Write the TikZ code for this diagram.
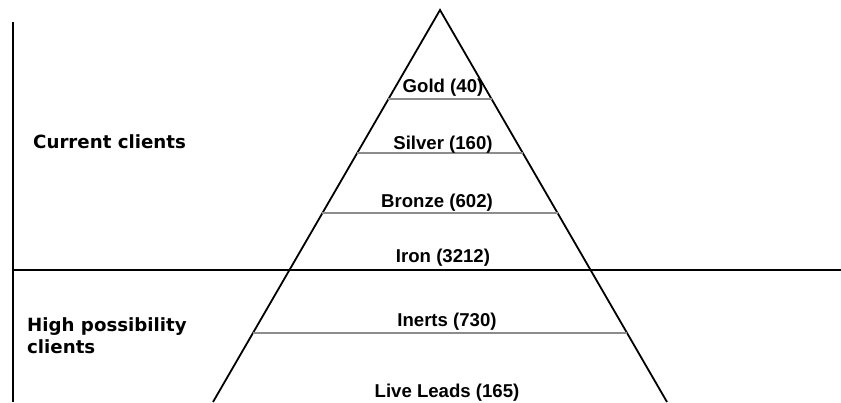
\documentclass[tikz,border=0pt]{standalone}
\usepackage{fontspec}
\setmainfont{Liberation Sans}
\newfontfamily\sidefont{DejaVu Sans}
\usetikzlibrary{calc,positioning}

\begin{document}
\begin{tikzpicture}[
    x=1pt, y=-1pt,
    edge/.style={line width=1.8pt, black},
    tier/.style={line width=1.8pt, black!45},
    tierlabel/.style={font=\fontsize{18.6}{22}\selectfont\bfseries, inner sep=0pt},
    sidelabel/.style={font=\sidefont\fontsize{18.2}{22}\selectfont\bfseries, inner sep=0pt, align=left, anchor=west}
]
    \useasboundingbox (0,0) rectangle (841,402);

    % pyramid
    \coordinate (apex) at (440,10);
    \coordinate (bl) at (213,402);
    \coordinate (br) at (667,402);
    \draw[edge] (bl) -- (apex) -- (br);

    % split between current and possible clients
    \coordinate (axtop) at (13,22);
    \coordinate (axbot) at (13,402);
    \coordinate (splitl) at (13,270);
    \coordinate (splitr) at (841,270);
    \draw[edge] (axtop) -- (axbot);
    \draw[edge] (splitl) -- (splitr);

    % tier boundaries
    \foreach \t/\n in {0.227/gold, 0.365/silver, 0.518/bronze, 0.824/inerts} {
        \coordinate (\n l) at ($(apex)!\t!(bl)$);
        \coordinate (\n r) at ($(apex)!\t!(br)$);
        \draw[tier] (\n l) -- (\n r);
    }

    % tier labels
    \node[tierlabel] (gold) at (443,88) {Gold (40)};
    \node[tierlabel] (silver) at (443,145) {Silver (160)};
    \node[tierlabel] (bronze) at (437,203) {Bronze (602)};
    \node[tierlabel] (iron) at (443,258) {Iron (3212)};
    \node[tierlabel] (inerts) at (447,322) {Inerts (730)};
    \node[tierlabel] (leads) at (447,393) {Live Leads (165)};

    % group labels
    \node[sidelabel] (current) at (33,142) {Current clients};
    \node[sidelabel] (possible) at (27,336) {High possibility\\clients};
\end{tikzpicture}
\end{document}
